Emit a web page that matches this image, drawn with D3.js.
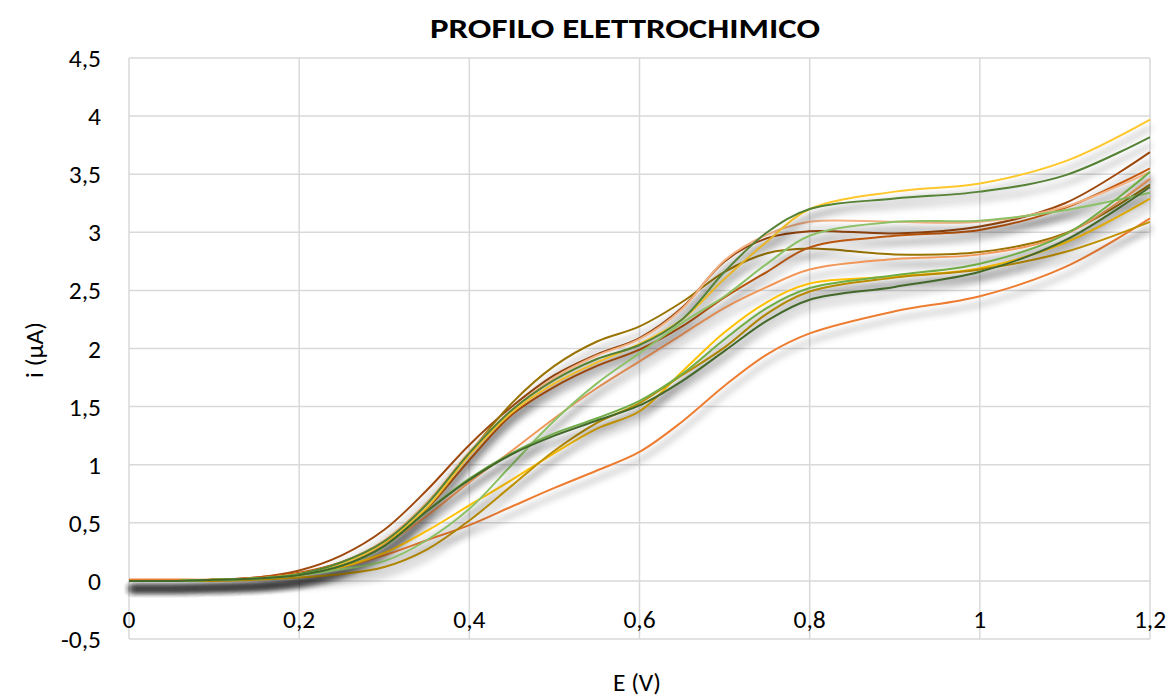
<!DOCTYPE html>
<html>
<head>
<meta charset="utf-8">
<script src="https://cdn.jsdelivr.net/npm/d3@7/dist/d3.min.js"></script>
<style>
  html, body { margin: 0; padding: 0; background: #ffffff; }
  svg { display: block; }
  text { font-family: Carlito, Calibri, Lato, "Open Sans", sans-serif; }
</style>
</head>
<body>
<svg id="chart" width="1173" height="697"></svg>
<script>
// ---------- data ----------
const chartTitle = "PROFILO ELETTROCHIMICO";
const xTitle = "E (V)";
const yTitle = "i (\u00B5A)";
const xTicks = [0, 0.2, 0.4, 0.6, 0.8, 1.0, 1.2];
const yTicks = [-0.5, 0, 0.5, 1, 1.5, 2, 2.5, 3, 3.5, 4, 4.5];

const potential = [0, 0.05, 0.1, 0.15, 0.2, 0.25, 0.3, 0.35, 0.4, 0.45, 0.5, 0.55, 0.6, 0.65, 0.7, 0.75, 0.8, 0.9, 1.0, 1.1, 1.2];

const seriesA = [0.00,0.00,0.01,0.03,0.09,0.22,0.44,0.78,1.17,1.50,1.77,1.95,2.09,2.35,2.75,2.95,3.01,2.99,3.05,3.25,3.69];
const seriesB = [0.00,0.00,0.01,0.02,0.06,0.16,0.34,0.67,1.10,1.53,1.85,2.06,2.19,2.40,2.66,2.82,2.86,2.81,2.83,2.99,3.41];
const seriesC = [0.01,0.01,0.01,0.03,0.07,0.16,0.32,0.62,1.04,1.43,1.67,1.85,1.99,2.19,2.44,2.66,2.87,2.97,3.02,3.21,3.55];
const seriesD = [0.00,0.00,0.01,0.02,0.06,0.16,0.35,0.67,1.11,1.47,1.75,1.94,2.08,2.34,2.76,2.98,3.09,3.09,3.09,3.22,3.52];
const seriesE = [0.00,0.00,0.01,0.02,0.06,0.15,0.31,0.56,0.85,1.12,1.40,1.66,1.89,2.12,2.35,2.53,2.68,2.77,2.81,2.98,3.46];
const seriesF = [0.01,0.01,0.01,0.02,0.05,0.12,0.22,0.35,0.48,0.64,0.80,0.95,1.11,1.37,1.68,1.95,2.13,2.32,2.45,2.70,3.12];
const seriesG = [0.00,0.00,0.01,0.02,0.06,0.15,0.33,0.63,1.08,1.45,1.70,1.88,2.04,2.25,2.60,2.92,3.20,3.35,3.42,3.61,3.97];
const seriesH = [0.00,0.00,0.01,0.02,0.05,0.12,0.24,0.43,0.65,0.87,1.10,1.31,1.46,1.80,2.14,2.40,2.56,2.62,2.69,2.91,3.29];
const seriesI = [0.00,0.00,0.00,0.01,0.03,0.06,0.12,0.27,0.52,0.82,1.12,1.36,1.53,1.77,2.01,2.30,2.49,2.61,2.68,2.83,3.09];
const seriesJ = [0.00,0.00,0.01,0.02,0.06,0.16,0.34,0.66,1.10,1.47,1.73,1.91,2.03,2.25,2.66,3.00,3.20,3.29,3.35,3.49,3.82];
const seriesK = [0.00,0.00,0.01,0.02,0.05,0.10,0.17,0.35,0.62,1.00,1.38,1.70,1.96,2.22,2.45,2.73,2.97,3.09,3.10,3.19,3.34];
const seriesL = [0.00,0.00,0.01,0.02,0.05,0.13,0.30,0.60,0.88,1.10,1.27,1.40,1.55,1.78,2.08,2.35,2.52,2.63,2.73,2.98,3.52];
const seriesM = [0.00,0.00,0.01,0.02,0.05,0.13,0.30,0.60,0.87,1.09,1.25,1.38,1.51,1.72,1.98,2.24,2.42,2.53,2.66,2.93,3.39];

const allSeries = [seriesA, seriesB, seriesC, seriesD, seriesE, seriesF, seriesG, seriesH, seriesI, seriesJ, seriesK, seriesL, seriesM];
const seriesColors = ["#9E480E", "#997300", "#C55A11", "#F4B183", "#F1975A", "#ED7D31", "#FFC72C", "#FFC000", "#BF9000", "#548235", "#8CC168", "#70AD47", "#43682B"];

// ---------- layout ----------
const svg = d3.select("#chart");
const plot = { left: 129, right: 1150, top: 58, bottom: 639 };

const x = d3.scaleLinear().domain([0, 1.2]).range([plot.left, plot.right]);
const y = d3.scaleLinear().domain([-0.5, 4.5]).range([plot.bottom, plot.top]);
const fmt = v => String(+v.toFixed(1)).replace(".", ",");

// shadow filter
const defs = svg.append("defs");
const f = defs.append("filter").attr("id", "shadow")
  .attr("filterUnits", "userSpaceOnUse")
  .attr("x", 0).attr("y", 0).attr("width", 1173).attr("height", 697);
f.append("feDropShadow").attr("dx", 1).attr("dy", 8).attr("stdDeviation", 3.6)
  .attr("flood-color", "#000").attr("flood-opacity", 0.45);

// gridlines
const grid = svg.append("g");
grid.selectAll("line.h").data(yTicks).enter().append("line")
  .attr("x1", plot.left).attr("x2", plot.right)
  .attr("y1", d => y(d)).attr("y2", d => y(d))
  .attr("stroke", "#d9d9d9").attr("stroke-width", 1.5);
grid.selectAll("line.v").data(xTicks).enter().append("line")
  .attr("y1", plot.top).attr("y2", plot.bottom)
  .attr("x1", d => x(d)).attr("x2", d => x(d))
  .attr("stroke", "#d9d9d9").attr("stroke-width", 1.5);

// y tick labels
svg.append("g").selectAll("text").data(yTicks).enter().append("text")
  .attr("x", 101).attr("y", d => y(d) + 9)
  .attr("text-anchor", "end").attr("font-size", 25.5).attr("fill", "#000")
  .text(fmt);

// x tick labels (axis crosses at 0)
svg.append("g").selectAll("text").data(xTicks).enter().append("text")
  .attr("x", d => x(d)).attr("y", y(0) + 47)
  .attr("text-anchor", "middle").attr("font-size", 25.5).attr("fill", "#000")
  .text(fmt);

// lines
const line = d3.line()
  .x((d, i) => x(potential[i]))
  .y(d => y(d))
  .curve(d3.curveCatmullRom.alpha(0.5));

svg.append("g").selectAll("path").data(allSeries).enter().append("path")
  .attr("d", line)
  .attr("fill", "none")
  .attr("stroke", (d, i) => seriesColors[i])
  .attr("stroke-width", 2)
  .attr("filter", "url(#shadow)");

// titles
svg.append("text").attr("x", 625).attr("y", 38)
  .attr("text-anchor", "middle").attr("font-size", 29).attr("font-weight", "bold")
  .attr("textLength", 390).attr("lengthAdjust", "spacingAndGlyphs")
  .attr("fill", "#000").text(chartTitle);

svg.append("text").attr("x", 637).attr("y", 691)
  .attr("text-anchor", "middle").attr("font-size", 25.5).attr("fill", "#000")
  .text(xTitle);

svg.append("text")
  .attr("transform", "translate(43,350) rotate(-90)")
  .attr("text-anchor", "middle").attr("font-size", 25.5).attr("fill", "#000")
  .text(yTitle);
</script>
</body>
</html>
